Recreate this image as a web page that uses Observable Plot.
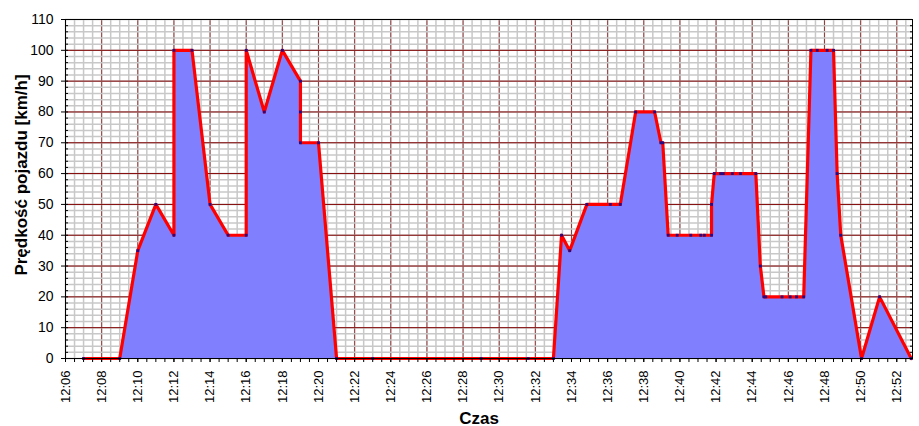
<!DOCTYPE html>
<html><head><meta charset="utf-8">
<script src="https://cdn.jsdelivr.net/npm/d3@7"></script>
<script src="https://cdn.jsdelivr.net/npm/@observablehq/plot@0.6"></script>
<style>body{margin:0;background:#fff;} svg{display:block}</style>
</head><body><div id="chart"></div>
<script>
// Time in minutes after 12:00, speed in km/h
const times = [7, 9, 10, 11, 12, 12, 13, 14, 15, 16, 16, 17, 18, 19, 19, 19, 20, 21, 23, 29, 31.6, 33,
  33.45, 33.9, 34.85, 36.15, 36.7, 37.55, 38.6, 38.95, 39.05, 39.35, 39.85, 40.6, 41.15, 41.35, 41.75, 41.75,
  41.9, 42.25, 42.4, 42.9, 43.35, 44.2, 44.45, 44.65, 44.75, 45.65, 46.1, 46.45, 46.85,
  47.25, 47.6, 48.15, 48.5, 48.7, 48.9, 50.05, 51.05, 52.8];
const speeds = [0, 0, 35, 50, 40, 100, 100, 50, 40, 40, 100, 80, 100, 90, 80, 70, 70, 0, 0, 0, 0, 0,
  40, 35, 50, 50, 50, 80, 80, 70, 70, 40, 40, 40, 40, 40, 40, 50,
  60, 60, 60, 60, 60, 60, 30, 20, 20, 20, 20, 20, 20,
  100, 100, 100, 100, 60, 40, 0, 20, 0];

const xTickLabels = ["12:06","12:08","12:10","12:12","12:14","12:16","12:18","12:20","12:22","12:24","12:26","12:28",
  "12:30","12:32","12:34","12:36","12:38","12:40","12:42","12:44","12:46","12:48","12:50","12:52"];
const xMajorTicks = [6,8,10,12,14,16,18,20,22,24,26,28,30,32,34,36,38,40,42,44,46,48,50,52];
const xMinorTicks = d3.range(6, 53, 0.5);
const yMajorTicks = [0,10,20,30,40,50,60,70,80,90,100,110];
const yMinorTicks = d3.range(0, 111, 2);
const xDomain = [6, 52.87];
const yDomain = [0, 110];
const yTitle = "Prędkość pojazdu [km/h]";
const xTitle = "Czas";

const data = times.map((t, i) => ({t, v: speeds[i]}));
const fmt = m => xTickLabels[xMajorTicks.indexOf(m)];

const chart = Plot.plot({
  width: 919, height: 426,
  marginLeft: 65, marginRight: 7, marginTop: 19, marginBottom: 68,
  style: {fontFamily: "'Liberation Sans', Arial, sans-serif", fontSize: "14px", color: "#000", background: "#fff"},
  x: {type: "linear", domain: xDomain},
  y: {domain: yDomain},
  marks: [
    Plot.ruleX(xMinorTicks, {stroke: "#c8c8c8", strokeWidth: 1.5}),
    Plot.ruleX(xMajorTicks, {stroke: "#800000", strokeOpacity: 0.7}),
    Plot.ruleY(yMinorTicks, {stroke: "#c8c8c8", strokeWidth: 1.5}),
    Plot.ruleY(yMajorTicks, {stroke: "#800000"}),
    Plot.areaY(data, {x: "t", y1: 0, y2: "v", fill: "#8080ff"}),
    Plot.line(data, {x: "t", y: "v", stroke: "#ff0000", strokeWidth: 3.2}),
    Plot.dot(data, {x: "t", y: "v", symbol: "square", r: 1.6, fill: "#2a0a80", stroke: null}),
    Plot.frame({stroke: "#000"}),
    Plot.axisY({ticks: yMajorTicks, tickSize: 4, tickPadding: 8, fontSize: 14, label: null}),
    Plot.axisY({ticks: yMinorTicks, tickSize: 3, dx: 3, tickFormat: () => "", label: null}),
    Plot.axisY({anchor: "right", ticks: yMinorTicks, tickSize: 3, dx: -3, tickFormat: () => "", label: null}),
    Plot.axisX({ticks: xMinorTicks, tickSize: 4, tickFormat: () => "", label: null}),
    Plot.axisX({ticks: xMajorTicks, tickSize: 4, tickPadding: 8, tickRotate: -90, tickFormat: fmt, fontSize: 13, label: null}),
    Plot.text([yTitle], {text: d => d, frameAnchor: "left", textAnchor: "middle", dx: -44, dy: -14, rotate: -90, fontWeight: "bold", fontSize: 17}),
    Plot.text([xTitle], {text: d => d, frameAnchor: "bottom", textAnchor: "middle", dy: 65, dx: -10, fontWeight: "bold", fontSize: 17})
  ]
});
document.getElementById("chart").append(chart);
</script>
</body></html>
